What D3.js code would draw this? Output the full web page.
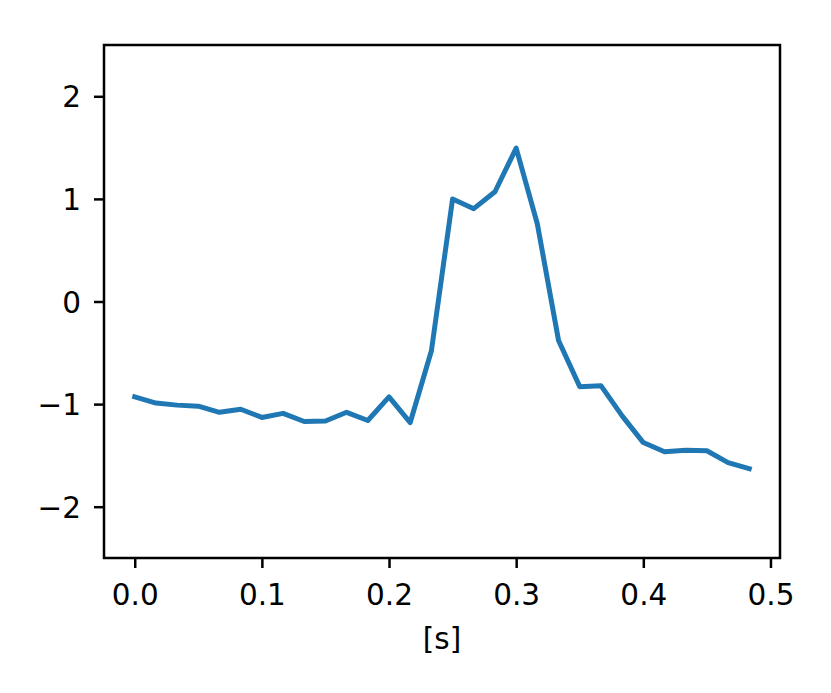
<!DOCTYPE html>
<html>
<head>
<meta charset="utf-8">
<script src="https://cdn.jsdelivr.net/npm/d3@7"></script>
<style>
  body { margin: 0; background: #fff; }
  svg { display: block; font-family: "DejaVu Sans", sans-serif; }
</style>
</head>
<body>
<svg id="drawing_region"></svg>
<script>
// time in seconds, one sample every 1/60 s
const times = d3.range(30).map(i => i / 60);
const values = [
    -0.93, -0.99, -1.01, -1.02, -1.08, -1.05, -1.13, -1.09, -1.17, -1.165,
    -1.08, -1.16, -0.93, -1.18, -0.48, 1.00, 0.905, 1.07, 1.495, 0.755,
    -0.38, -0.83, -0.82, -1.115, -1.375, -1.465, -1.45, -1.455, -1.57, -1.63
];
const xTicks = [0, 0.1, 0.2, 0.3, 0.4, 0.5];
const yTicks = [-2, -1, 0, 1, 2];
const xLabel = "[s]";

const config = {
    width: 831,
    height: 693,
    margin: { top: 45, right: 51, bottom: 135, left: 104 },
    fontSize: 29.5,
    tickSize: 10,
};

const inner_width = config.width - config.margin.left - config.margin.right;
const inner_height = config.height - config.margin.top - config.margin.bottom;

const svg = d3.select('#drawing_region')
    .attr('width', config.width)
    .attr('height', config.height);

const chart = svg.append('g')
    .attr('transform', `translate(${config.margin.left}, ${config.margin.top})`);

// matplotlib style 5% margins on x
const xmax = d3.max(times);
const xpad = xmax * 0.05;
const xscale = d3.scaleLinear()
    .domain([-xpad, xmax + xpad])
    .range([0, inner_width]);

const yscale = d3.scaleLinear()
    .domain([-2.5, 2.5])
    .range([inner_height, 0]);

const xaxis = d3.axisBottom(xscale)
    .tickValues(xTicks)
    .tickFormat(d3.format('.1f'))
    .tickSize(config.tickSize)
    .tickPadding(8)
    .tickSizeOuter(0);

const yaxis = d3.axisLeft(yscale)
    .tickValues(yTicks)
    .tickFormat(d => d < 0 ? '\u2212' + Math.abs(d) : d)
    .tickSize(config.tickSize)
    .tickPadding(13)
    .tickSizeOuter(0);

// line
const line = d3.line()
    .x((d, i) => xscale(times[i]))
    .y(d => yscale(d));

chart.append('path')
    .datum(values)
    .attr('d', line)
    .attr('fill', 'none')
    .attr('stroke', '#1f77b4')
    .attr('stroke-width', 5)
    .attr('stroke-linejoin', 'round')
    .attr('stroke-linecap', 'square');

// axes
const gx = chart.append('g')
    .attr('transform', `translate(0, ${inner_height})`)
    .call(xaxis);
const gy = chart.append('g')
    .call(yaxis);

[gx, gy].forEach(g => {
    g.select('.domain').remove();
    g.selectAll('line').attr('stroke', 'black').attr('stroke-width', 2.5);
    g.selectAll('text')
        .attr('fill', 'black')
        .attr('font-size', config.fontSize)
        .attr('font-family', '"DejaVu Sans", sans-serif');
});
gx.selectAll('text').attr('dy', '0.98em');
gy.selectAll('text').attr('dy', '0.36em');

// frame
chart.append('rect')
    .attr('width', inner_width)
    .attr('height', inner_height)
    .attr('fill', 'none')
    .attr('stroke', 'black')
    .attr('stroke-width', 2.5);

// x label
chart.append('text')
    .attr('x', inner_width / 2)
    .attr('y', inner_height + 91)
    .attr('text-anchor', 'middle')
    .attr('font-size', config.fontSize)
    .attr('fill', 'black')
    .text(xLabel);
</script>
</body>
</html>
